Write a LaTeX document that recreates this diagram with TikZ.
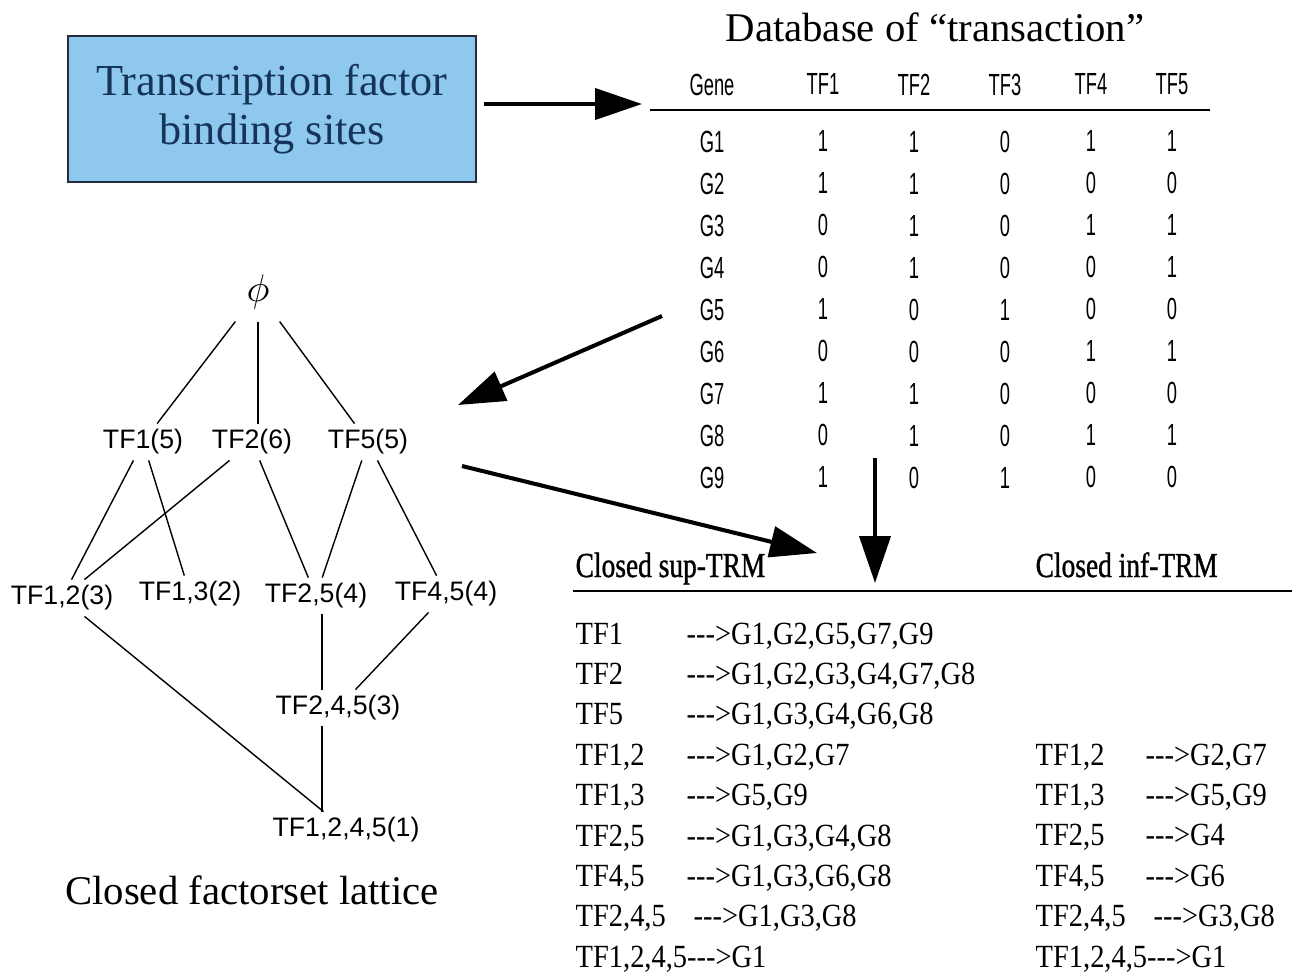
\documentclass[tikz,border=0pt]{standalone}
\usepackage{fontspec}
\setmainfont{Liberation Serif}
\newfontfamily\latfont{Liberation Sans}
\newfontfamily\tabfont[FakeStretch=0.6]{Liberation Sans}
\newfontfamily\rulefont[FakeStretch=0.88]{Liberation Serif}
\newfontfamily\headfont[FakeStretch=0.78,FakeBold=1]{Liberation Serif}
\usetikzlibrary{arrows.meta,positioning}
\definecolor{boxblue}{RGB}{142,200,238}
\definecolor{boxtext}{RGB}{22,52,88}
\definecolor{boxline}{RGB}{35,45,60}
\newcommand{\imp}{-{}-{}->}

\begin{document}
\begin{tikzpicture}[x=0.1mm,y=-0.1mm,
    lat/.style={font=\latfont\fontsize{7.6pt}{9pt}\selectfont, inner sep=1.5pt},
    tabcol/.style={anchor=north, inner sep=0pt, align=center, font=\tabfont\fontsize{8.7pt}{4.2mm}\selectfont},
    rulecol/.style={anchor=north west, inner sep=0pt, align=left, font=\rulefont\fontsize{9.2pt}{4.04mm}\selectfont},
    rulehead/.style={anchor=base west, inner sep=0pt, font=\headfont\fontsize{10pt}{12pt}\selectfont},
    title/.style={font=\fontsize{11.6pt}{14pt}\selectfont},
    bigarrow/.style={line width=1.15pt, -{Triangle[length=4.7mm,width=3.1mm]}}]
    \useasboundingbox (0,0) rectangle (1292,974);

    % binding sites box and database
    \node(tfbs)[draw=boxline, line width=0.6pt, fill=boxblue, minimum width=40.8mm, minimum height=14.6mm,
        align=center, text=boxtext, font=\fontsize{12.6pt}{4.9mm}\selectfont] at (272,109) {Transcription factor\\binding sites};
    \node(dbtitle)[title] at (935,27) {Database of “transaction”};
    \node(gene)[tabcol] at (712,73) {Gene\\[1.5mm]G1\\G2\\G3\\G4\\G5\\G6\\G7\\G8\\G9};
    \node(tfa)[tabcol] at (823,73) {TF1\\[1.5mm]1\\1\\0\\0\\1\\0\\1\\0\\1};
    \node(tfb)[tabcol] at (914,73) {TF2\\[1.5mm]1\\1\\1\\1\\0\\0\\1\\1\\0};
    \node(tfc)[tabcol] at (1005,73) {TF3\\[1.5mm]0\\0\\0\\0\\1\\0\\0\\0\\1};
    \node(tfd)[tabcol] at (1091,73) {TF4\\[1.5mm]1\\0\\1\\0\\0\\1\\0\\1\\0};
    \node(tfe)[tabcol] at (1172,73) {TF5\\[1.5mm]1\\0\\1\\1\\0\\1\\0\\1\\0};
    \draw[line width=0.6pt] (650,110) -- (1210,110);

    % lattice
    \node(phi)[font=\fontsize{11pt}{13pt}\selectfont] at (258,292) {$\phi$};
    \node(tf1)[lat] at (143,442) {TF1(5)};
    \node(tf2)[lat] at (252,442) {TF2(6)};
    \node(tf5)[lat] at (368,442) {TF5(5)};
    \node(tf12)[lat] at (62,598) {TF1,2(3)};
    \node(tf13)[lat] at (190,594) {TF1,3(2)};
    \node(tf25)[lat] at (316,596) {TF2,5(4)};
    \node(tf45)[lat] at (446,594) {TF4,5(4)};
    \node(tf245)[lat] at (338,708) {TF2,4,5(3)};
    \node(tf1245)[lat] at (346,830) {TF1,2,4,5(1)};
    \draw(phi) -- (tf1);
    \draw(phi) -- (phi |- tf2.north);
    \draw(phi) -- (tf5);
    \draw(tf1) -- (tf12);
    \draw(tf1) -- (tf13);
    \draw(tf2) -- (tf12);
    \draw(tf2) -- (tf25);
    \draw(tf5) -- (tf25);
    \draw(tf5) -- (tf45);
    \draw([xshift=0.6mm]tf25.south) -- ([xshift=0.6mm]tf25.south |- tf245.north);
    \draw(tf45) -- (tf245);
    \draw(tf12) -- (tf1245);
    \draw([xshift=0.6mm]tf25.south |- tf245.south) -- ([xshift=0.6mm]tf25.south |- tf1245.north);
    \node(latcap)[title] at (252,890) {Closed factorset lattice};

    % closed rules
    \node(suphead)[rulehead] at (575,577) {Closed sup-TRM};
    \node(infhead)[rulehead] at (1035,577) {Closed inf-TRM};
    \draw[line width=0.7pt] (573,591) -- (1292,591);
    \node(supnames)[rulecol] at (575,622) {TF1\\TF2\\TF5\\TF1,2\\TF1,3\\TF2,5\\TF4,5\\TF2,4,5\\TF1,2,4,5\imp G1};
    \node(supgenes)[rulecol] at (686,622) {\imp G1,G2,G5,G7,G9\\\imp G1,G2,G3,G4,G7,G8\\\imp G1,G3,G4,G6,G8\\\imp G1,G2,G7\\\imp G5,G9\\\imp G1,G3,G4,G8\\\imp G1,G3,G6,G8\\\hspace{0.7mm}\imp G1,G3,G8};
    \node(infnames)[rulecol] at (1035,743) {TF1,2\\TF1,3\\TF2,5\\TF4,5\\TF2,4,5\\TF1,2,4,5\imp G1};
    \node(infgenes)[rulecol] at (1145,743) {\imp G2,G7\\\imp G5,G9\\\imp G4\\\imp G6\\\hspace{0.8mm}\imp G3,G8};

    % arrows between the parts
    \coordinate(dbin) at (642,104);
    \coordinate(dbout) at (662,316);
    \coordinate(latin) at (458,405);
    \coordinate(latout) at (462,466);
    \coordinate(rulesin) at (817,553);
    \coordinate(dbdown) at (875,458);
    \coordinate(rulesdown) at (875,583);
    \draw[bigarrow]([xshift=0.7mm]tfbs.east |- dbin) -- (dbin);
    \draw[bigarrow](dbout) -- (latin);
    \draw[bigarrow](latout) -- (rulesin);
    \draw[bigarrow](dbdown) -- (rulesdown);
\end{tikzpicture}
\end{document}
